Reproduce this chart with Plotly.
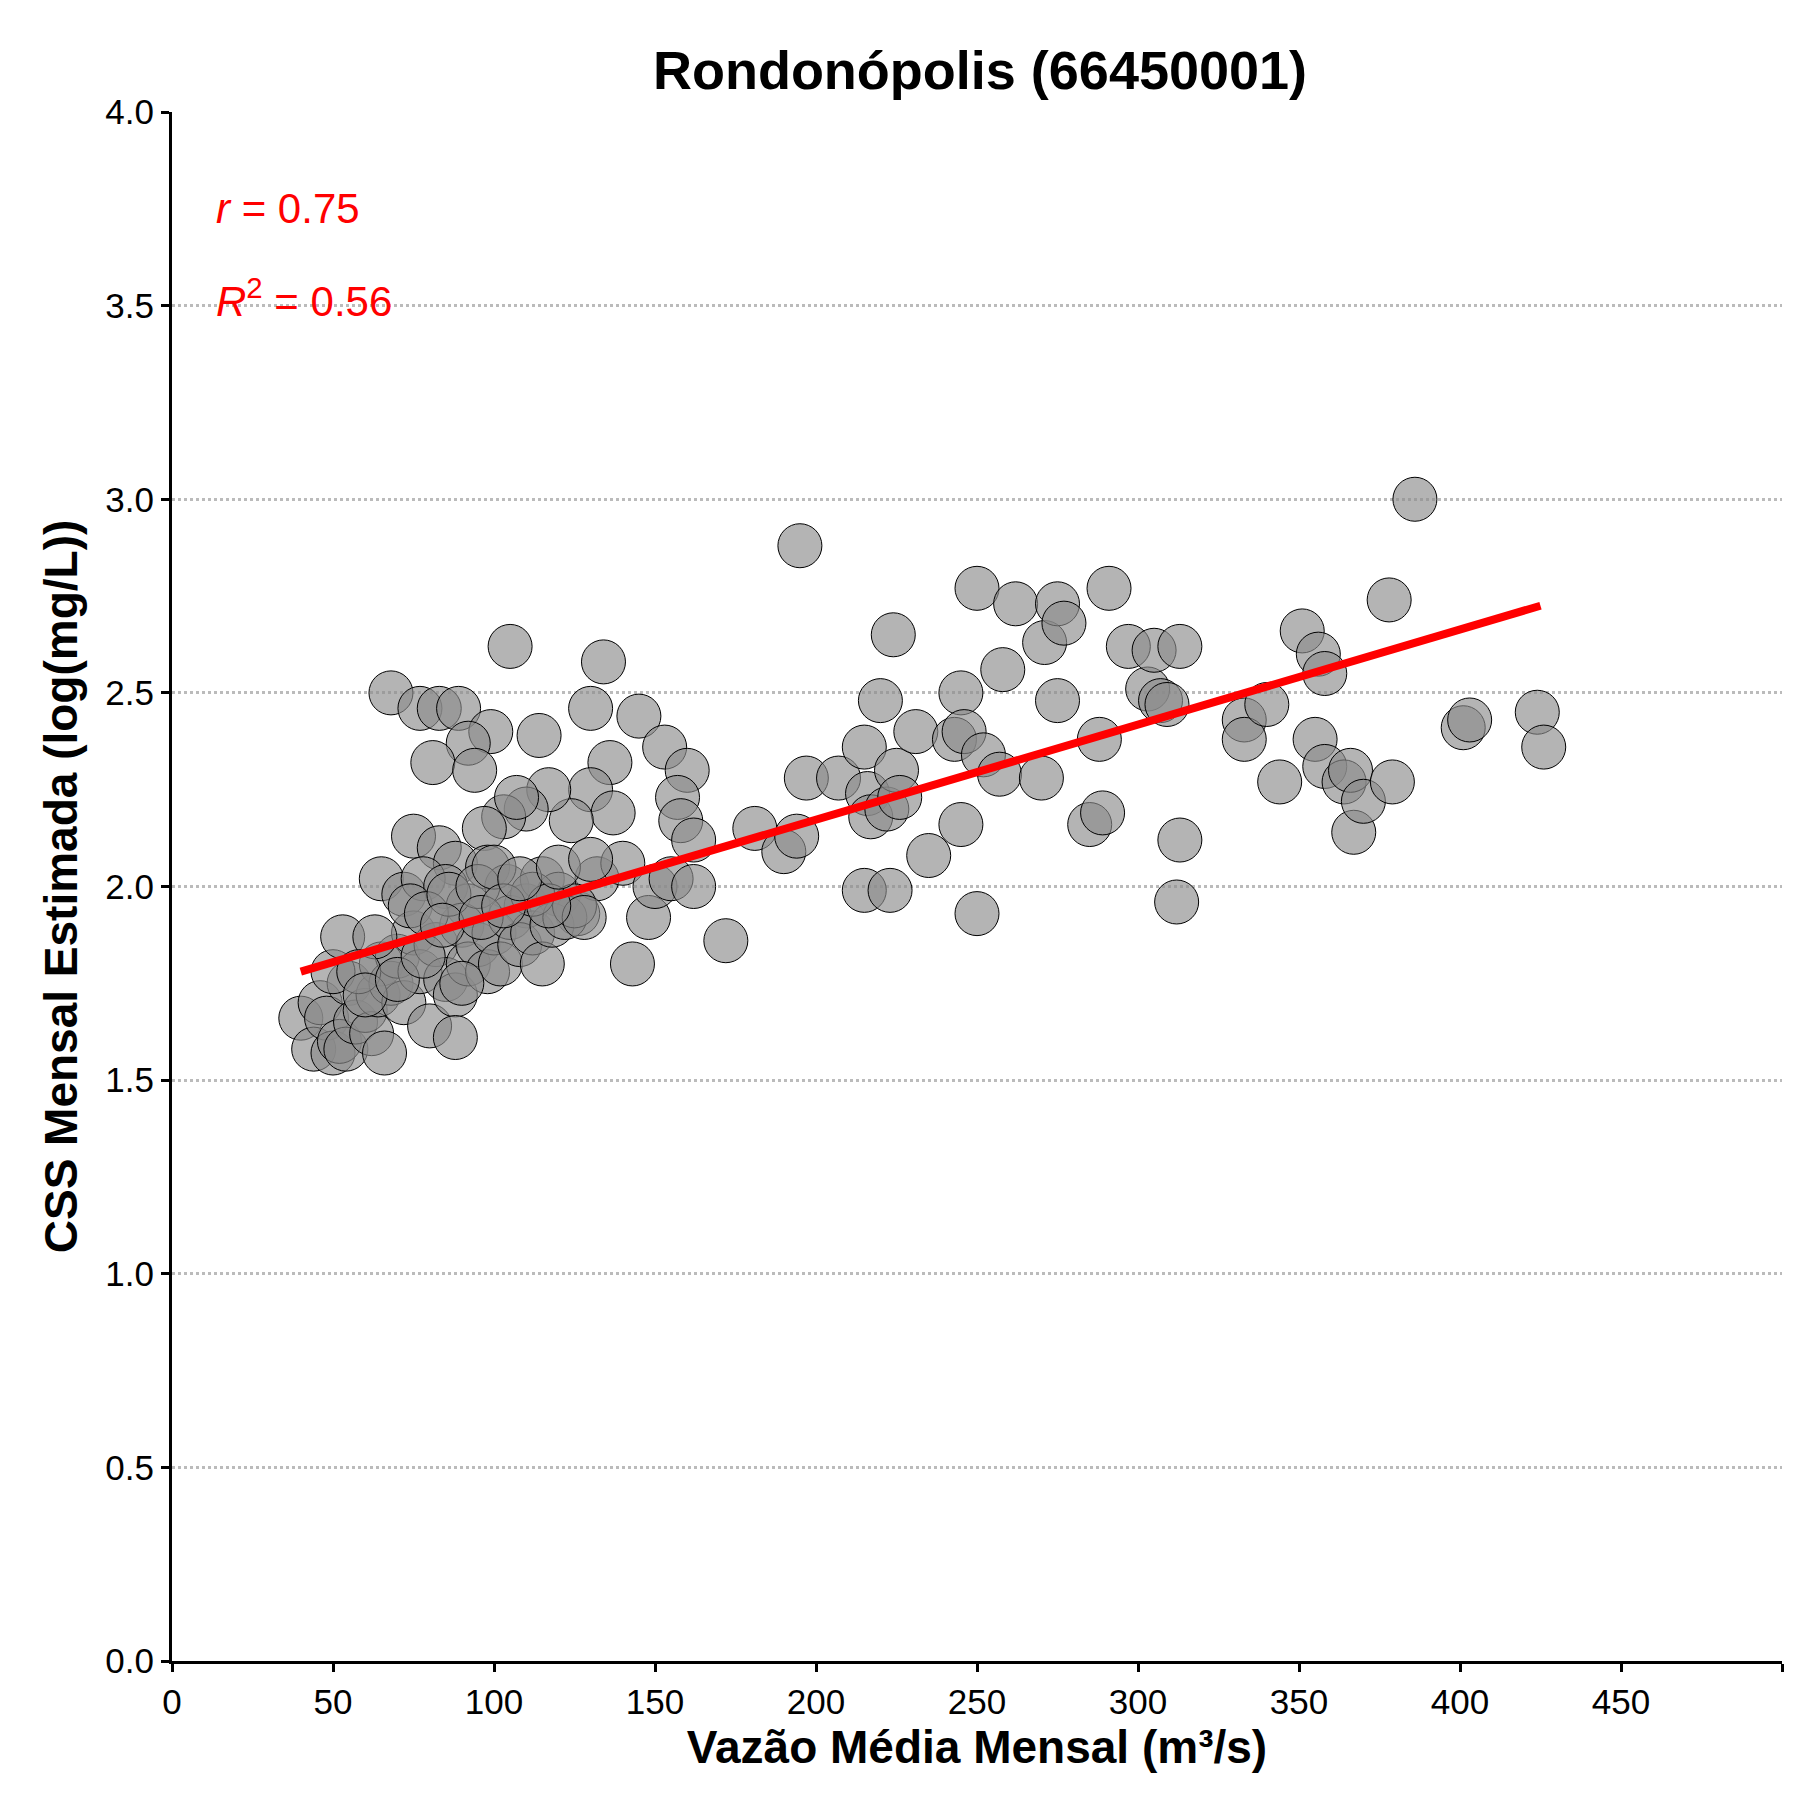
import plotly.graph_objects as go

vazao = [68, 77, 83, 89, 99, 92, 81, 94, 105, 114, 130, 134, 145, 153, 160, 157, 158, 162, 136, 130,
         137, 124, 117, 110, 103, 107, 97, 75, 83, 88, 65, 72, 78, 85, 92, 98, 104, 110, 115, 120,
         126, 132, 140, 143, 148, 150, 155, 162, 172, 181, 190, 194, 195, 197, 207, 215, 216, 217, 215, 220,
         222, 224, 225, 223, 226, 231, 235, 243, 245, 246, 245, 250, 250, 252, 258, 257, 262, 270, 271, 275,
         277, 275, 285, 288, 289, 291, 297, 303, 305, 307, 309, 312, 313, 313, 333, 333, 340, 344, 351, 355,
         356, 358, 358, 364, 366, 367, 370, 378, 379, 386, 401, 403, 424, 426,
         40, 44, 46, 48, 50, 52, 54, 55, 50, 53, 57, 60, 62, 64, 66, 65, 68, 70, 72, 75,
         77, 80, 82, 85, 88, 88, 90, 92, 95, 98, 100, 102, 105, 108, 112, 115, 118, 122, 125, 128,
         63, 58, 74, 79, 86, 95, 100, 112, 117, 60, 70, 78, 84, 90, 96, 103, 108, 120, 130]
css = [2.50, 2.46, 2.46, 2.46, 2.40, 2.37, 2.32, 2.30, 2.62, 2.39, 2.46, 2.58, 2.44, 2.36, 2.30, 2.23, 2.17, 2.12, 2.32, 2.25,
       2.19, 2.17, 2.25, 2.20, 2.18, 2.23, 2.15, 2.13, 2.10, 2.06, 2.02, 1.98, 2.02, 2.00, 1.95, 2.05, 2.00, 1.95, 2.02, 1.98,
       1.93, 2.02, 2.06, 1.80, 1.92, 2.00, 2.02, 2.00, 1.86, 2.15, 2.09, 2.13, 2.88, 2.28, 2.28, 2.36, 2.24, 2.18, 1.99, 2.48,
       2.20, 2.65, 2.30, 1.99, 2.23, 2.40, 2.08, 2.38, 2.50, 2.40, 2.16, 2.77, 1.93, 2.34, 2.56, 2.29, 2.73, 2.28, 2.63, 2.73,
       2.68, 2.48, 2.16, 2.38, 2.19, 2.77, 2.62, 2.51, 2.61, 2.48, 2.47, 1.96, 2.12, 2.62, 2.43, 2.38, 2.47, 2.27, 2.66, 2.38,
       2.60, 2.55, 2.31, 2.27, 2.30, 2.14, 2.22, 2.74, 2.27, 3.00, 2.41, 2.43, 2.45, 2.36,
       1.66, 1.58, 1.70, 1.66, 1.57, 1.60, 1.58, 1.75, 1.78, 1.87, 1.65, 1.68, 1.62, 1.72, 1.57, 1.80, 1.75, 1.82, 1.70, 1.88,
       1.78, 1.64, 1.85, 1.76, 1.72, 1.61, 1.90, 1.80, 1.85, 1.78, 1.88, 1.80, 1.92, 1.85, 1.88, 1.80, 1.90, 1.92, 1.95, 1.92,
       1.87, 1.78, 1.95, 1.93, 1.98, 2.00, 2.05, 1.98, 1.95, 1.72, 1.76, 1.82, 1.90, 1.75, 1.92, 1.95, 2.02, 2.05, 2.07]

fit_x = [40, 425]
fit_y = [1.78, 2.725]

fig = go.Figure()
fig.add_trace(go.Scatter(
    x=vazao, y=css, mode="markers",
    marker=dict(size=44, color="rgba(140,140,140,0.65)", line=dict(color="black", width=1)),
))
fig.add_trace(go.Scatter(x=fit_x, y=fit_y, mode="lines", line=dict(color="red", width=8)))

fig.add_annotation(x=13, y=3.75, xref="x", yref="y", xanchor="left", showarrow=False,
                   text="<i>r</i> = 0.75", font=dict(size=42, color="red"))
fig.add_annotation(x=13, y=3.52, xref="x", yref="y", xanchor="left", showarrow=False,
                   text="<i>R</i><sup>2</sup> = 0.56", font=dict(size=42, color="red"))

axis_common = dict(showline=True, linecolor="black", linewidth=3, ticks="outside", ticklen=8,
                   tickwidth=3, tickcolor="black", tickfont=dict(size=35, color="black"), zeroline=False)
fig.update_layout(
    width=1800, height=1800,
    font=dict(family="Liberation Sans, Arial", color="black"),
    title=dict(text="<b>Rondonópolis (66450001)</b>", x=0.54, xanchor="center", y=0.976,
               font=dict(size=54)),
    plot_bgcolor="white", paper_bgcolor="white",
    showlegend=False,
    margin=dict(l=164, r=26, t=104, b=147),
    xaxis=dict(range=[0, 500], dtick=50, showgrid=False, automargin=False,
               title=dict(text="<b>Vazão Média Mensal (m³/s)</b>", font=dict(size=46), standoff=10),
               **axis_common),
    yaxis=dict(range=[0, 4], dtick=0.5, tickformat=".1f", showgrid=True, gridcolor="#bbbbbb",
               griddash="dot", gridwidth=3, automargin=False,
               title=dict(text="<b>CSS Mensal Estimada (log(mg/L))</b>", font=dict(size=46), standoff=14),
               **axis_common),
)

fig.write_html("out.html")
